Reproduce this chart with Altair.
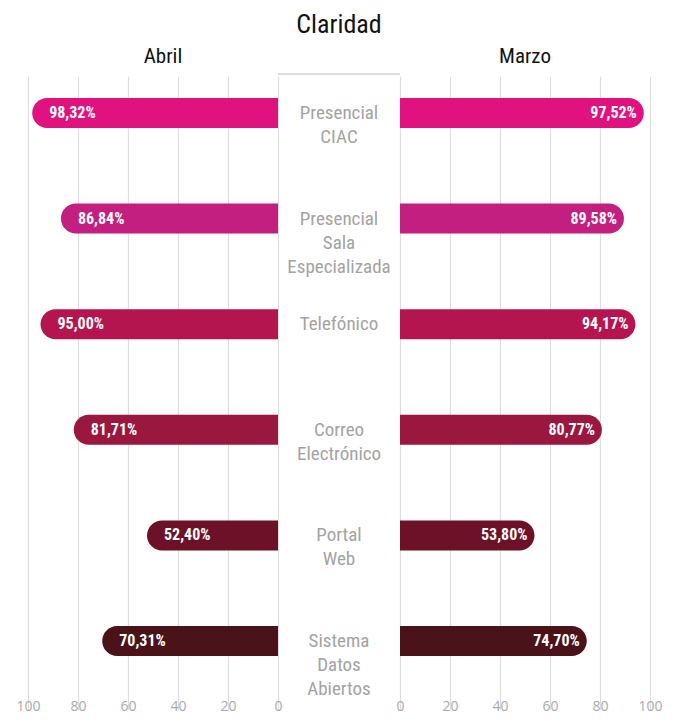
import altair as alt
import pandas as pd

categories = ["Presencial CIAC", "Presencial Sala Especializada", "Telefónico",
              "Correo Electrónico", "Portal Web", "Sistema Datos Abiertos"]
center_labels = ["Presencial\nCIAC", "Presencial\nSala\nEspecializada", "Telefónico",
                 "Correo\nElectrónico", "Portal\nWeb", "Sistema\nDatos\nAbiertos"]
abril = [98.32, 86.84, 95.00, 81.71, 52.40, 70.31]
marzo = [97.52, 89.58, 94.17, 80.77, 53.80, 74.70]
colors = ["#E0127F", "#C21F80", "#B5154F", "#9A1740", "#6C1128", "#4A1219"]
ticks = [0, 20, 40, 60, 80, 100]
months = ["Abril", "Marzo"]

FONT = "Roboto Condensed, Liberation Sans Narrow, Roboto, sans-serif"
H = 622
W = 622
G = 24.4  # half-gap of the centre column, in value units
yrange = [-13.8, 619.8]

df = pd.DataFrame({"cat": categories, "center": center_labels,
                   "abril": abril, "marzo": marzo})
tick_pos = [-(G + t) for t in ticks] + [G + t for t in ticks]
mdf = pd.DataFrame({"m": months, "side": [-1, 1]})

xs = alt.Scale(domain=[-(G + 100), G + 100], nice=False, zero=False)
yenc = alt.Y("cat:N", sort=categories, axis=None,
             scale=alt.Scale(range=yrange, paddingInner=0, paddingOuter=0))
cenc = alt.Color("cat:N", scale=alt.Scale(domain=categories, range=colors), legend=None)

base = alt.Chart(df).transform_calculate(
    l0=f"-{G}", l1=f"-{G} - datum.abril",
    r0=f"{G}", r1=f"{G} + datum.marzo",
    labA="replace(format(datum.abril, '.2f'), '.', ',') + '%'",
    labM="replace(format(datum.marzo, '.2f'), '.', ',') + '%'",
)

grid = base.mark_bar(opacity=0).encode(
    x=alt.X("l0:Q", scale=xs,
            axis=alt.Axis(values=tick_pos, grid=True, gridColor="#dedede", gridWidth=1.2,
                          domain=False, ticks=False, labelColor="#aaaaaa",
                          labelFontSize=14, labelFont="Open Sans", labelPadding=3,
                          labelFlush=False, labelOverlap=False,
                          labelExpr=f"round(abs(datum.value) - {G})", title=None)),
)

left_bar = base.mark_bar(size=30, cornerRadiusTopLeft=15, cornerRadiusBottomLeft=15).encode(
    x=alt.X("l0:Q", scale=xs), x2="l1:Q", y=yenc, color=cenc)
right_bar = base.mark_bar(size=30, cornerRadiusTopRight=15, cornerRadiusBottomRight=15).encode(
    x=alt.X("r0:Q", scale=xs), x2="r1:Q", y=yenc, color=cenc)

left_txt = base.mark_text(align="left", baseline="middle", dx=17, color="white",
                          font=FONT, fontWeight="bold", fontSize=16).encode(
    x=alt.X("l1:Q", scale=xs), y=yenc, text="labA:N")
right_txt = base.mark_text(align="right", baseline="middle", dx=-7, color="white",
                           font=FONT, fontWeight="bold", fontSize=16).encode(
    x=alt.X("r1:Q", scale=xs), y=yenc, text="labM:N")

top_rule = base.mark_rule(color="#dedede", strokeWidth=1.5).encode(
    x=alt.X("l0:Q", scale=xs), x2="r0:Q", y=alt.value(0))
mid_txt = base.mark_text(align="center", baseline="middle", lineBreak="\n",
                         font=FONT, fontSize=19, lineHeight=24,
                         color="#a3a3a3").encode(
    x=alt.datum(0), y=yenc, text="center:N")

month_txt = alt.Chart(mdf).transform_calculate(
    px=f"datum.side * ({G} + 48) + 2"
).mark_text(font=FONT, fontSize=21, color="#111111", baseline="middle").encode(
    x=alt.X("px:Q", scale=xs), y=alt.value(-17), text="m:N")

chart = alt.layer(grid, left_bar, right_bar, left_txt, right_txt, top_rule,
                  mid_txt, month_txt).properties(
    width=W, height=H,
    title=alt.TitleParams("Claridad", font=FONT, fontSize=26, fontWeight="normal",
                          color="#111111", anchor="middle", offset=8),
    autosize=alt.AutoSizeParams(type="none"),
    padding={"left": 20, "top": 66, "right": 14, "bottom": 20}
).configure_view(strokeWidth=0)

chart.save("out.html", embed_options={"renderer": "svg", "actions": False})
